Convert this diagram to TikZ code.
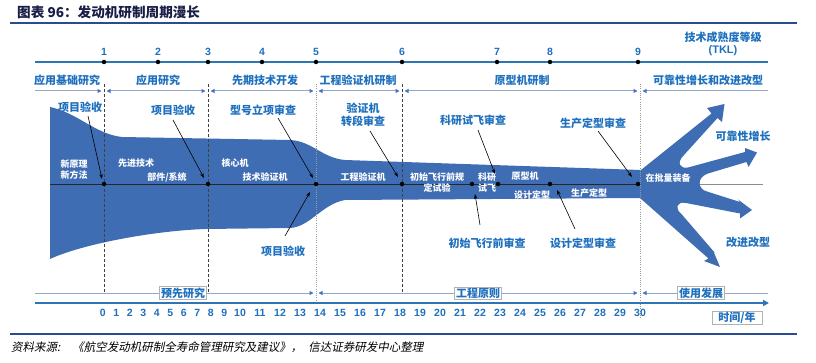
\documentclass[tikz,border=0pt]{standalone}
\usepackage{fontspec}
\setmainfont{Noto Sans CJK SC}
\newfontfamily\numfont{Liberation Sans}
\newfontfamily\srcfont[FakeSlant=0.2]{Noto Sans CJK SC}
\usetikzlibrary{arrows.meta}
\definecolor{lblue}{RGB}{30,112,190}
\definecolor{shapeblue}{RGB}{63,109,180}
\definecolor{navy}{RGB}{41,75,145}
\definecolor{axisblue}{RGB}{46,117,182}
\definecolor{phaseline}{RGB}{150,168,200}
\definecolor{tipblue}{RGB}{68,114,196}
\definecolor{titlecol}{RGB}{25,30,70}
\tikzset{
  lbl/.style={text=lblue,font=\bfseries\fontsize{11}{13}\selectfont,inner sep=0pt,align=center},
  wtxt/.style={text=white,font=\bfseries\fontsize{9}{11}\selectfont,inner sep=0pt,align=center},
  tnum/.style={text=lblue,font=\numfont\bfseries\fontsize{10.5}{12}\selectfont,inner sep=0pt},
  tdot/.style={circle,fill=black,inner sep=0pt,minimum size=4.5pt},
  arr/.style={black,line width=0.6pt,-{Stealth[length=5pt,width=3.5pt]}},
  phaseR/.style={phaseline,line width=1pt,-{Triangle[length=4pt,width=4pt,color=tipblue]}},
  phaseL/.style={phaseline,line width=1pt,{Triangle[length=4pt,width=4pt,color=tipblue]}-},
  phaseLR/.style={phaseline,line width=1pt,{Triangle[length=4pt,width=4pt,color=tipblue]}-{Triangle[length=4pt,width=4pt,color=tipblue]}},
  vdash/.style={black!75,line width=0.7pt,dash pattern=on 3pt off 2pt},
  vdot/.style={black!40,line width=0.6pt,dash pattern=on 1pt off 1.2pt},
  boxlbl/.style={lbl,fill=white,draw=black!30,line width=0.5pt,inner xsep=1.5pt,inner ysep=1pt},
}
\begin{document}
\begin{tikzpicture}[x=1pt,y=-1pt]
\useasboundingbox (0,0) rectangle (816,363);
% title
\node[anchor=west,text=titlecol,font=\bfseries\fontsize{13.6}{15}\selectfont,inner sep=0pt] (title) at (17,12) {图表 96：发动机研制周期漫长};
\draw[navy,line width=2pt] (10,23) -- (797,23);
% TRL axis
\draw[axisblue,line width=1.5pt] (35,62) -- (768,62);
\foreach \n/\x in {1/104,2/158,3/208,4/262,5/316,6/402,7/497,8/550,9/638}{
  \node[tdot] (t\n) at (\x,62) {};
  \node[tnum] (tn\n) at (\x,52) {\n};
}
\node[lbl] (trl) at (723,37) {技术成熟度等级};
\node[lbl,font=\numfont\bfseries\fontsize{11}{13}\selectfont] (tkl) at (723,51) {(TKL)};
% phase labels
\node[lbl] (p1) at (67,80) {应用基础研究};
\node[lbl] (p2) at (158,80) {应用研究};
\node[lbl] (p3) at (265,80) {先期技术开发};
\node[lbl] (p4) at (358,80) {工程验证机研制};
\node[lbl] (p5) at (522,80) {原型机研制};
\node[lbl] (p6) at (708,80) {可靠性增长和改进改型};
% phase arrows (top)
\draw[phaseR] (35,91) -- (101.5,91);
\draw[phaseLR] (106.5,91) -- (205.5,91);
\draw[phaseLR] (210.5,91) -- (313.5,91);
\draw[phaseLR] (318.5,91) -- (399.5,91);
\draw[phaseLR] (404.5,91) -- (637.5,91);
\draw[phaseL] (642.5,91) -- (768,91);
% background gray centre line
\draw[black!45,line width=0.8pt] (640,184) -- (763,184);
% main shape
\fill[shapeblue] (50,107)
 .. controls (78,113) and (95,134) .. (122,137)
 -- (290,140)
 .. controls (312,141) and (322,158) .. (345,160)
 -- (641,170)
 -- (711.5,113.5) -- (707,108) -- (724.5,104) -- (722,122) -- (717.5,118)
 -- (684,155) .. controls (676,163) and (680,169) .. (688,167.5)
 -- (745,152) -- (745,148) -- (757,152.5) -- (748.5,167) -- (746.5,162)
 -- (708,173.5) .. controls (697,177) and (697,189) .. (707,191.5)
 -- (740,202) -- (738,199.5) -- (752,210) -- (740,218.5) -- (740,213.5)
 -- (686,203) .. controls (676,201) and (675,209) .. (681,213.5)
 -- (715,253) -- (713.5,251.5) -- (720,267) -- (704,261) -- (708.5,258.5)
 -- (640,198)
 -- (345,200)
 .. controls (322,204) and (310,227) .. (290,228)
 -- (205,229)
 .. controls (150,231) and (80,245) .. (50,259)
 -- cycle;
% centre line
\draw[black!85,line width=0.8pt] (50,184) -- (640,184);
% vertical lines
\draw[vdash] (104,84) -- (104,292);
\draw[vdash] (208,84) -- (208,292);
\draw[vdot] (316,84) -- (316,302);
\draw[vdash] (402,84) -- (402,292);
\draw[vdot] (640,84) -- (640,318);
% centre dots
\foreach \n/\x in {1/104,2/208,3/316,4/402,5/472,6/498,7/550,8/638}{
  \node[tdot] (c\n) at (\x,184) {};
}
% white texts
\node[wtxt] (w1) at (74,170) {新原理\\新方法};
\node[wtxt] (w2) at (136,163) {先进技术};
\node[wtxt] (w3) at (167,177) {部件/系统};
\node[wtxt] (w4) at (235,163) {核心机};
\node[wtxt] (w5) at (265,177) {技术验证机};
\node[wtxt] (w6) at (363,177) {工程验证机};
\node[wtxt] (w7) at (437,183) {初始飞行前规\\定试验};
\node[wtxt] (w8) at (487,183) {科研\\试飞};
\node[wtxt] (w9) at (525,176) {原型机};
\node[wtxt] (w10) at (532,195) {设计定型};
\node[wtxt] (w11) at (589,193) {生产定型};
\node[wtxt] (w12) at (668,178) {在批量装备};
% outside labels
\node[lbl] (l1) at (80,107) {项目验收};
\node[lbl] (l2) at (173,110) {项目验收};
\node[lbl] (l3) at (263,110) {型号立项审查};
\node[lbl] (l4) at (283,251) {项目验收};
\node[lbl] (l5) at (363,115) {验证机\\转段审查};
\node[lbl] (l6) at (473,120) {科研试飞审查};
\node[lbl] (l7) at (593,123) {生产定型审查};
\node[lbl] (l8) at (487,243) {初始飞行前审查};
\node[lbl] (l9) at (583,243) {设计定型审查};
\node[lbl] (l10) at (743,136) {可靠性增长};
\node[lbl] (l11) at (748,242) {改进改型};
% arrow points
\coordinate (s1) at (88,116);  \coordinate (e1) at (102,179);
\coordinate (s2) at (173,120); \coordinate (e2) at (204,178);
\coordinate (s3) at (278,118); \coordinate (e3) at (313,178);
\coordinate (s4) at (285,236); \coordinate (e4) at (310,192);
\coordinate (s5) at (370,131); \coordinate (e5) at (398,177);
\coordinate (s6) at (478,130); \coordinate (e6) at (495,174);
\coordinate (s7) at (598,131); \coordinate (e7) at (632,177);
\coordinate (s8) at (480,225); \coordinate (e8) at (475,194);
\coordinate (s9) at (575,229); \coordinate (e9) at (557,190);
\foreach \i in {1,...,9}{\draw[arr] (s\i) -- (e\i);}
% bottom phase arrows
\draw[phaseR] (35,293) -- (313.5,293);
\draw[phaseLR] (318.5,293) -- (637.5,293);
\draw[phaseL] (642.5,293) -- (768,293);
\node[boxlbl] (b1) at (183,293) {预先研究};
\node[boxlbl] (b2) at (478,293) {工程原则};
\node[boxlbl] (b3) at (701,293) {使用发展};
% time axis
\draw[axisblue,line width=2pt,-{Triangle[length=6pt,width=6pt]}] (35,303) -- (769,303);
\foreach \i in {0,...,9}{\node[tnum] (n\i) at ({102.7+13.5*\i},313) {\i};}
\foreach \i in {10,...,30}{\node[tnum] (n\i) at ({240+20*(\i-10)},313) {\i};}
\node[boxlbl,minimum width=50pt] (time) at (737,318) {时间/年};
% footer
\draw[navy,line width=2pt] (10,334) -- (797,334);
\node[anchor=west,inner sep=0pt,font=\srcfont\fontsize{11.5}{13}\selectfont] (src) at (11,347) {资料来源:\hspace{12pt}《航空发动机研制全寿命管理研究及建议》，\hspace{6pt}信达证券研发中心整理};
\end{tikzpicture}
\end{document}
